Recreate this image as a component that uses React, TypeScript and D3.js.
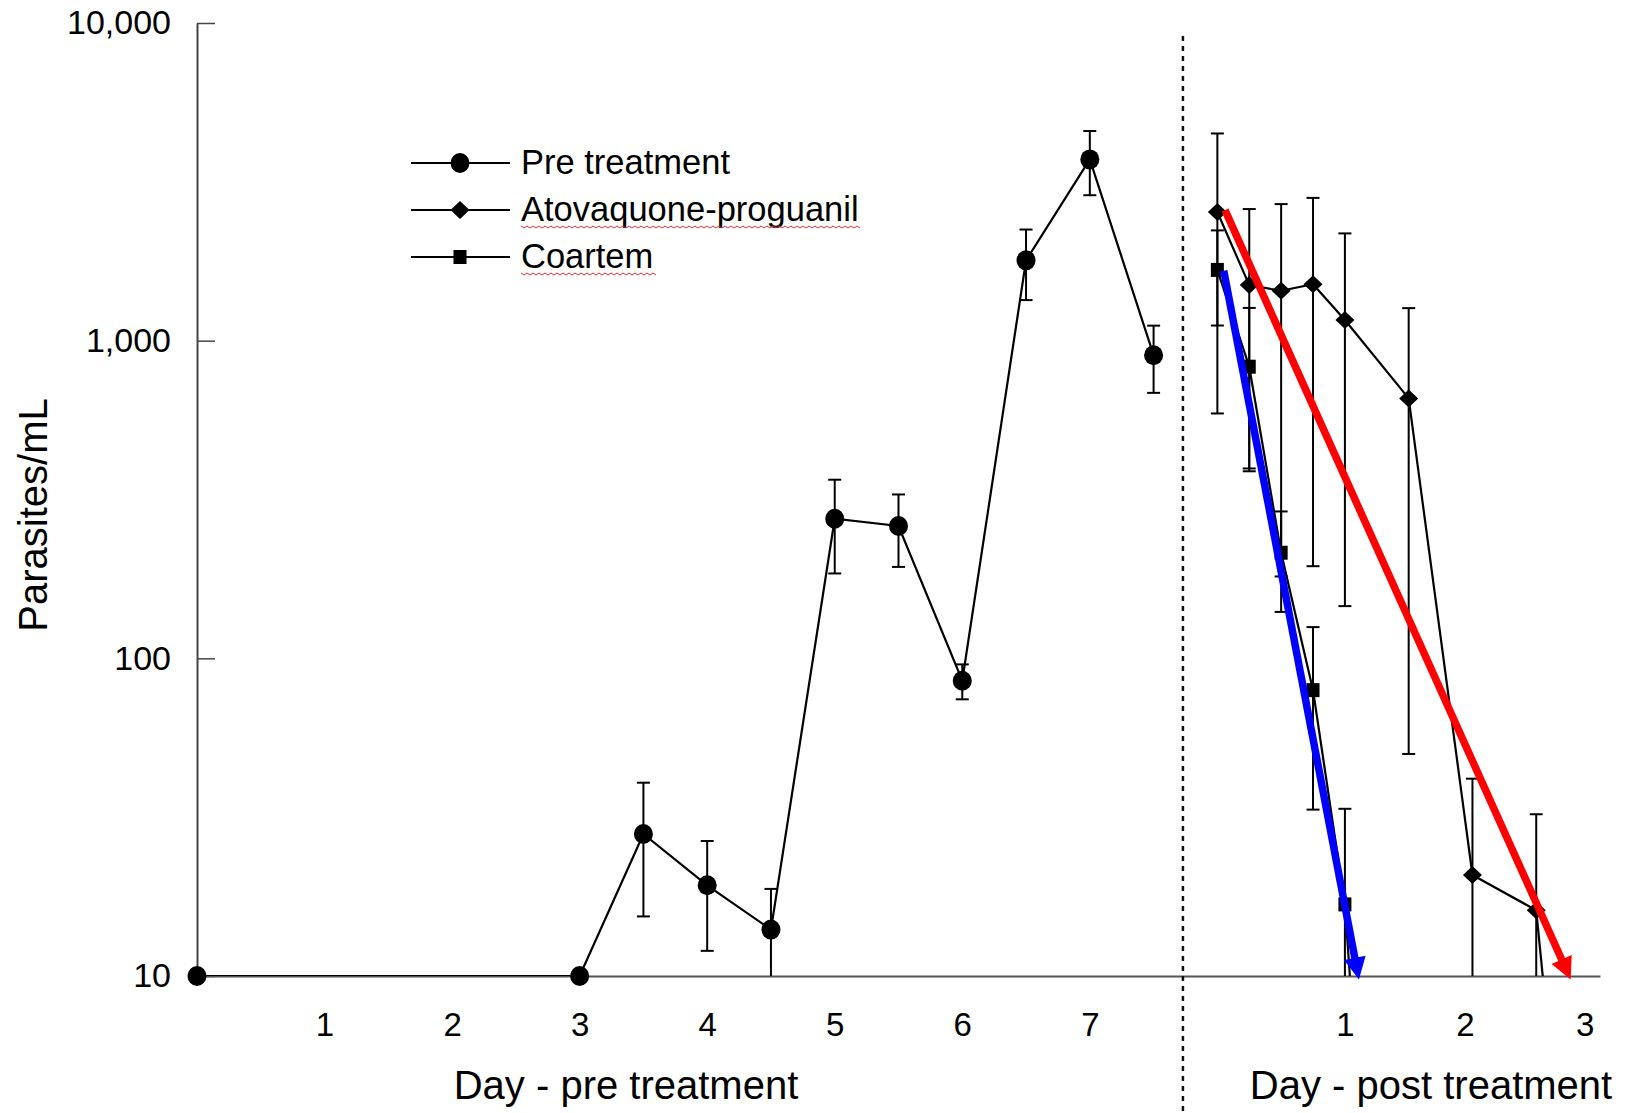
import React, { useEffect, useRef } from 'react'
import { select, scaleLinear, scaleLog, line, format, axisLeft, axisBottom } from 'd3'

// pre treatment: day, mean parasites/mL, SE
const preDays = [0, 3, 3.5, 4, 4.5, 5, 5.5, 6, 6.5, 7, 7.5]
const preMean = [10, 10, 28, 19.3, 14, 275, 261, 85, 1790, 3720, 900]
const preErr = [0, 0, 12.6, 7.3, 4.8, 90, 67, 10.7, 448, 850, 215]

// post treatment: days after treatment start
const treatStart = 8
const atoDays = [0, 0.25, 0.5, 0.75, 1, 1.5, 2, 2.5, 3]
const atoMean = [2540, 1496, 1436, 1505, 1161, 658, 20.8, 16.1, 0.15]
const atoErr = [1950, 1100, 1255, 1310, 1015, 608, 21, 16.2, 0]

const coaDays = [0, 0.25, 0.5, 0.75, 1, 1.25]
const coaMean = [1670, 828, 215, 79.4, 16.8, 0.6]
const coaErr = [554, 440, 75, 46, 16.8, 0]

// hand drawn clearance arrows (post treatment day, value)
const redArrow = [[0.06, 2576], [2.77, 9.75]]
const blueArrow = [[0.05, 1660], [1.11, 9.75]]

const yTicks = [10, 100, 1000, 10000]
const preTicks = [1, 2, 3, 4, 5, 6, 7]
const postTicks = [1, 2, 3]
const dividerDay = 7.73

const legendItems = ['Pre treatment', 'Atovaquone-proguanil', 'Coartem']

const FONT = '"Liberation Sans", Arial, Helvetica, sans-serif'
const W = 1626
const H = 1113

function App() {
  const svgRef = useRef(null)

  useEffect(() => {
    const svg = select(svgRef.current)
    svg.selectAll('*').remove()

    const x = scaleLinear().domain([0, 11]).range([197, 1600])
    const y = scaleLog().domain([10, 10000]).range([976, 23])
    // post treatment labels sit where they were typed in the original
    const xPost = scaleLinear().domain([1, 3]).range([x(9), x(10.88)])

    svg.append('defs').append('clipPath').attr('id', 'plotclip')
      .append('rect').attr('x', 0).attr('y', 0).attr('width', W).attr('height', y(10))

    // y axis, ticks pointing inward
    const yAxis = axisLeft(y).tickValues(yTicks).tickFormat(format(','))
      .tickSizeInner(-18).tickSizeOuter(0).tickPadding(26)
    const gy = svg.append('g').attr('transform', 'translate(197,0)').attr('color', '#444').call(yAxis)
    gy.select('.domain').attr('stroke-width', 2)
    gy.selectAll('.tick line').attr('stroke-width', 1.5)
    gy.selectAll('text').attr('fill', '#000').style('font-size', '34px').style('font-family', FONT)

    // x axis: baseline only, labels below
    const xAxis = axisBottom(x).tickValues(preTicks).tickFormat(format('d')).tickSize(0).tickPadding(37)
    const gx = svg.append('g').attr('transform', `translate(0,${y(10)})`).attr('color', '#555').call(xAxis)
    gx.select('.domain').attr('stroke-width', 2)
    gx.selectAll('text').attr('fill', '#000').style('font-size', '33px').style('font-family', FONT)

    const xAxisPost = axisBottom(xPost).tickValues(postTicks).tickFormat(format('d')).tickSize(0).tickPadding(37)
    const gxp = svg.append('g').attr('transform', `translate(0,${y(10)})`).call(xAxisPost)
    gxp.select('.domain').remove()
    gxp.selectAll('text').attr('fill', '#000').style('font-size', '33px').style('font-family', FONT)

    // divider between pre and post
    svg.append('line')
      .attr('x1', x(dividerDay)).attr('x2', x(dividerDay))
      .attr('y1', 36).attr('y2', H)
      .attr('stroke', '#111').attr('stroke-width', 2.5).attr('stroke-dasharray', '5,5')

    // titles
    svg.append('text').text('Parasites/mL')
      .attr('transform', 'translate(47,515) rotate(-90)')
      .attr('text-anchor', 'middle').style('font-size', '40px').style('font-family', FONT)
    svg.append('text').text('Day - pre treatment')
      .attr('x', 626).attr('y', 1099)
      .attr('text-anchor', 'middle').style('font-size', '40px').style('font-family', FONT)
    svg.append('text').text('Day - post treatment')
      .attr('x', 1431).attr('y', 1099)
      .attr('text-anchor', 'middle').style('font-size', '40px').style('font-family', FONT)

    const series = [
      { days: preDays.map(d => d), mean: preMean, err: preErr, shape: 'circle' },
      { days: atoDays.map(d => d + treatStart), mean: atoMean, err: atoErr, shape: 'diamond' },
      { days: coaDays.map(d => d + treatStart), mean: coaMean, err: coaErr, shape: 'square' },
    ]

    const plot = svg.append('g')
    const lineGen = line().x(d => x(d[0])).y(d => y(d[1]))

    const drawMarker = (g, shape, cx, cy) => {
      if (shape === 'circle') {
        g.append('ellipse').attr('cx', cx).attr('cy', cy).attr('rx', 9.5).attr('ry', 10).attr('fill', '#000')
      } else if (shape === 'diamond') {
        g.append('path').attr('d', `M${cx},${cy - 9}L${cx + 9.5},${cy}L${cx},${cy + 9}L${cx - 9.5},${cy}Z`).attr('fill', '#000')
      } else {
        g.append('rect').attr('x', cx - 6.5).attr('y', cy - 7).attr('width', 13).attr('height', 14).attr('fill', '#000')
      }
    }

    series.forEach(s => {
      // error bars
      s.days.forEach((d, i) => {
        const e = s.err[i]
        if (!e || s.mean[i] < 10) return
        const hi = s.mean[i] + e
        const loVal = s.mean[i] - e
        const lo = loVal > 10 ? y(loVal) : y(10)
        const cx = x(d)
        plot.append('line').attr('x1', cx).attr('x2', cx).attr('y1', y(hi)).attr('y2', lo)
          .attr('stroke', '#000').attr('stroke-width', 2)
        plot.append('line').attr('x1', cx - 6.5).attr('x2', cx + 6.5).attr('y1', y(hi)).attr('y2', y(hi))
          .attr('stroke', '#000').attr('stroke-width', 2)
        if (loVal > 10) {
          plot.append('line').attr('x1', cx - 6.5).attr('x2', cx + 6.5).attr('y1', lo).attr('y2', lo)
            .attr('stroke', '#000').attr('stroke-width', 2)
        }
      })
      const pts = s.days.map((d, i) => [d, s.mean[i]])
      plot.append('path').attr('d', lineGen(pts)).attr('fill', 'none')
        .attr('stroke', '#000').attr('stroke-width', 2.2).attr('clip-path', 'url(#plotclip)')
      pts.forEach(p => {
        if (p[1] >= 10) drawMarker(plot, s.shape, x(p[0]), y(p[1]))
      })
    })

    // clearance arrows
    const drawArrow = (pts, color) => {
      const x1 = x(pts[0][0] + treatStart), y1 = y(pts[0][1])
      const x2 = x(pts[1][0] + treatStart), y2 = y(pts[1][1])
      const len = Math.hypot(x2 - x1, y2 - y1)
      const ux = (x2 - x1) / len, uy = (y2 - y1) / len
      const headL = 22, headW = 11
      const bx = x2 - ux * headL, by = y2 - uy * headL
      svg.append('line').attr('x1', x1).attr('y1', y1).attr('x2', bx + ux * 2).attr('y2', by + uy * 2)
        .attr('stroke', color).attr('stroke-width', 7.5)
      svg.append('path')
        .attr('d', `M${x2},${y2}L${bx - uy * headW},${by + ux * headW}L${bx + uy * headW},${by - ux * headW}Z`)
        .attr('fill', color)
    }
    drawArrow(redArrow, '#ff0000')
    drawArrow(blueArrow, '#0000ff')

    // legend
    const shapes = ['circle', 'diamond', 'square']
    const leg = svg.append('g')
    legendItems.forEach((name, i) => {
      const ry = 163 + i * 47
      leg.append('line').attr('x1', 411).attr('x2', 510).attr('y1', ry).attr('y2', ry)
        .attr('stroke', '#000').attr('stroke-width', 2)
      drawMarker(leg, shapes[i], 460, ry)
      const t = leg.append('text').text(name).attr('x', 521).attr('y', ry + 11)
        .style('font-size', '34.5px').style('font-family', FONT)
      if (i > 0) {
        // spell-check squiggle as in the source document
        const w = t.node().getComputedTextLength()
        let d = `M521,${ry + 16}`
        for (let k = 0, px = 521; px < 521 + w; k++) {
          px += 3
          d += `L${px},${ry + 16 + (k % 2 ? 0 : 2)}`
        }
        leg.append('path').attr('d', d).attr('fill', 'none').attr('stroke', '#e03030').attr('stroke-width', 1)
      }
    })
  }, [])

  return (
    <svg ref={svgRef} width={W} height={H}
      style={{ position: 'absolute', left: 0, top: 0, background: '#fff' }} />
  )
}

export default App
